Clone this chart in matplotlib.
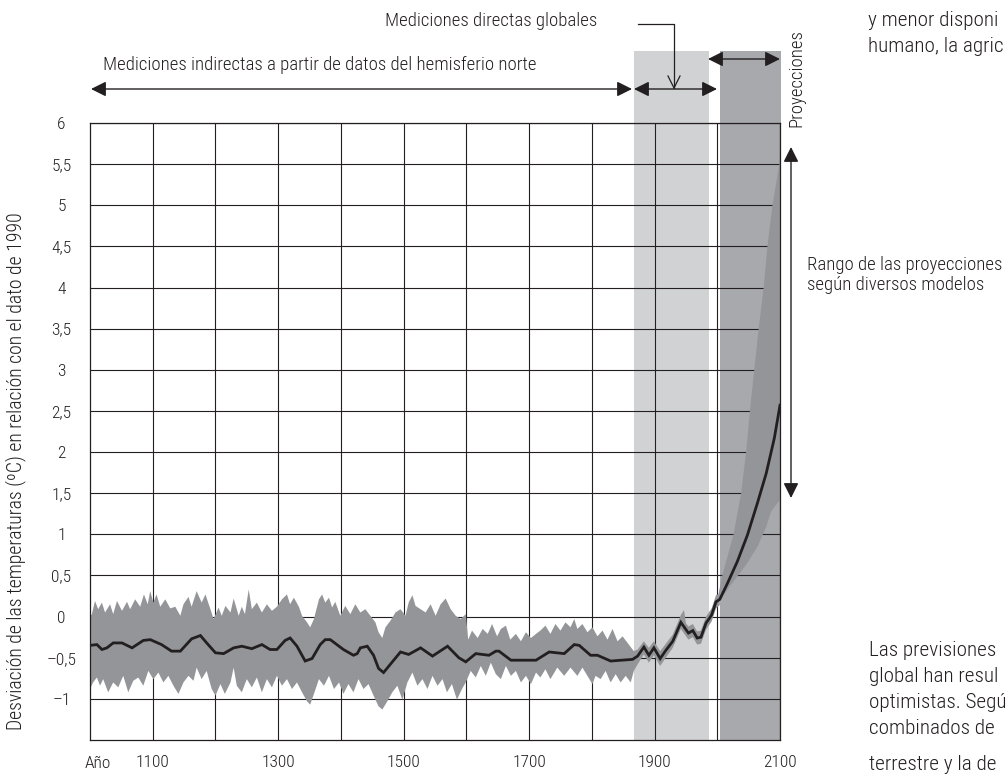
import numpy as np
import matplotlib
matplotlib.use("Agg")
import matplotlib.pyplot as plt
from matplotlib import font_manager as fm
from matplotlib.patches import Rectangle
from matplotlib.lines import Line2D

# ---------------- data ----------------
# reconstructed mean temperature deviation (black line)
mean_years = [1000, 1011, 1019, 1027, 1037, 1051, 1067, 1085, 1096, 1114, 1130, 1144, 1162, 1176,
              1186, 1200, 1213, 1229, 1242, 1258, 1274, 1287, 1298, 1311, 1319, 1330, 1343, 1354,
              1367, 1375, 1383, 1404, 1420, 1426, 1431, 1442, 1452, 1460, 1468, 1482, 1495, 1508,
              1527, 1546, 1570, 1588, 1599, 1615, 1636, 1647, 1652, 1671, 1711, 1732, 1756, 1772,
              1780, 1798, 1809, 1830, 1865, 1873, 1883, 1891, 1899, 1909, 1918, 1929, 1942, 1954,
              1961, 1968, 1974, 1982, 1991, 1998, 2004, 2016, 2032, 2048, 2064, 2078, 2091, 2100]
mean_vals = [-0.35, -0.34, -0.40, -0.38, -0.32, -0.32, -0.38, -0.29, -0.28, -0.34, -0.42, -0.42, -0.27, -0.23,
             -0.32, -0.44, -0.45, -0.38, -0.36, -0.39, -0.34, -0.40, -0.40, -0.29, -0.26, -0.36, -0.54, -0.51,
             -0.34, -0.28, -0.28, -0.40, -0.47, -0.45, -0.38, -0.36, -0.47, -0.63, -0.68, -0.55, -0.43, -0.46,
             -0.38, -0.48, -0.36, -0.50, -0.55, -0.45, -0.47, -0.42, -0.42, -0.53, -0.53, -0.43, -0.45, -0.34,
             -0.35, -0.47, -0.47, -0.54, -0.52, -0.48, -0.37, -0.47, -0.38, -0.51, -0.41, -0.30, -0.07, -0.20,
             -0.17, -0.26, -0.25, -0.08, 0.02, 0.18, 0.21, 0.40, 0.67, 0.99, 1.38, 1.74, 2.17, 2.57]

# uncertainty band, upper edge
band_up_years = [1000, 1003, 1008, 1013, 1019, 1024, 1032, 1037, 1043, 1051, 1059, 1064, 1072, 1080, 1086,
                 1092, 1096, 1101, 1106, 1112, 1120, 1128, 1136, 1144, 1149, 1157, 1162, 1170, 1178, 1184,
                 1192, 1197, 1205, 1210, 1216, 1224, 1229, 1237, 1242, 1247, 1253, 1258, 1266, 1274, 1282,
                 1290, 1298, 1306, 1314, 1319, 1325, 1333, 1338, 1346, 1351, 1357, 1365, 1370, 1375, 1381,
                 1386, 1391, 1399, 1407, 1415, 1423, 1431, 1439, 1447, 1455, 1460, 1466, 1471, 1479, 1487,
                 1495, 1503, 1508, 1514, 1519, 1527, 1535, 1543, 1551, 1559, 1567, 1575, 1583, 1591, 1599,
                 1603, 1609, 1618, 1626, 1634, 1641, 1649, 1655, 1663, 1670, 1679, 1687, 1695, 1703, 1711,
                 1718, 1726, 1734, 1742, 1750, 1758, 1766, 1772, 1777, 1785, 1793, 1801, 1809, 1817, 1825,
                 1833, 1841, 1849, 1857, 1867, 1873, 1883, 1891, 1899, 1909, 1918, 1929, 1942, 1947, 1950,
                 1954, 1961, 1968, 1974, 1982, 1991, 1998, 2004]
band_up_vals = [0.00, 0.03, 0.19, 0.09, 0.17, 0.05, 0.15, 0.03, 0.19, 0.07, 0.18, 0.09, 0.21, 0.12, 0.27,
                0.15, 0.31, 0.17, 0.27, 0.12, 0.21, 0.10, 0.12, 0.01, 0.15, 0.24, 0.12, 0.31, 0.17, 0.27,
                0.09, -0.03, 0.11, 0.01, 0.13, 0.05, 0.22, 0.01, 0.12, 0.03, 0.33, 0.09, 0.17, 0.05, 0.15,
                0.07, 0.12, 0.21, 0.27, 0.15, 0.23, 0.12, 0.01, -0.07, -0.13, -0.03, 0.21, 0.27, 0.17, 0.23,
                0.11, 0.18, 0.01, 0.13, 0.03, 0.15, 0.05, 0.09, 0.01, -0.07, -0.19, -0.26, -0.13, -0.05, 0.05,
                0.09, 0.01, 0.17, 0.26, 0.13, 0.09, 0.05, 0.15, 0.01, 0.15, 0.22, 0.09, 0.01, -0.03, 0.03,
                -0.28, -0.17, -0.26, -0.15, -0.21, -0.09, -0.24, -0.15, -0.11, -0.28, -0.21, -0.30, -0.19, -0.26, -0.21,
                -0.17, -0.11, -0.21, -0.09, -0.17, -0.07, -0.13, -0.03, -0.15, -0.09, -0.19, -0.13, -0.24, -0.17, -0.28,
                -0.15, -0.30, -0.24, -0.32, -0.42, -0.40, -0.30, -0.38, -0.30, -0.42, -0.33, -0.22, 0.02, 0.08, -0.08,
                -0.12, -0.09, -0.18, -0.17, 0.00, 0.10, 0.26, 0.28]

# uncertainty band, lower edge
band_low_years = [1000, 1005, 1011, 1016, 1021, 1029, 1037, 1045, 1053, 1061, 1069, 1077, 1085, 1093, 1101,
                  1109, 1117, 1125, 1133, 1141, 1149, 1157, 1165, 1170, 1178, 1186, 1194, 1200, 1208, 1215,
                  1224, 1229, 1234, 1242, 1250, 1258, 1266, 1274, 1282, 1290, 1298, 1306, 1314, 1322, 1330,
                  1338, 1346, 1351, 1357, 1365, 1373, 1381, 1389, 1397, 1404, 1412, 1420, 1428, 1436, 1444,
                  1452, 1460, 1466, 1474, 1482, 1490, 1498, 1506, 1514, 1522, 1530, 1538, 1546, 1554, 1562,
                  1569, 1577, 1585, 1593, 1599, 1607, 1615, 1623, 1631, 1639, 1647, 1655, 1663, 1671, 1679,
                  1687, 1695, 1703, 1711, 1718, 1726, 1734, 1745, 1756, 1766, 1777, 1785, 1793, 1801, 1806,
                  1814, 1822, 1830, 1838, 1846, 1854, 1862, 1867, 1873, 1883, 1891, 1899, 1909, 1918, 1929,
                  1942, 1954, 1961, 1968, 1974, 1982, 1991, 1998, 2004]
band_low_vals = [-0.88, -0.80, -0.74, -0.84, -0.76, -0.92, -0.80, -0.86, -0.72, -0.92, -0.78, -0.74, -0.84, -0.66, -0.76,
                 -0.68, -0.80, -0.72, -0.84, -0.94, -0.80, -0.72, -0.78, -0.62, -0.76, -0.66, -0.88, -0.96, -0.82, -0.94,
                 -0.80, -0.62, -0.84, -0.92, -0.76, -0.86, -0.74, -0.92, -0.76, -0.86, -0.72, -0.84, -0.76, -0.88, -0.80,
                 -0.92, -1.03, -1.07, -0.94, -0.76, -0.84, -0.72, -0.88, -0.80, -0.94, -0.82, -0.92, -0.76, -0.88, -0.82,
                 -0.96, -1.09, -1.13, -1.03, -0.92, -0.84, -1.01, -0.80, -0.68, -0.84, -0.76, -0.88, -0.72, -0.84, -0.76,
                 -0.92, -0.82, -1.01, -0.88, -0.80, -0.66, -0.74, -0.60, -0.72, -0.56, -0.70, -0.76, -0.60, -0.72, -0.66,
                 -0.80, -0.72, -0.82, -0.68, -0.74, -0.64, -0.76, -0.62, -0.72, -0.62, -0.72, -0.62, -0.72, -0.82, -0.72,
                 -0.76, -0.66, -0.80, -0.70, -0.80, -0.72, -0.80, -0.66, -0.58, -0.46, -0.56, -0.47, -0.60, -0.50, -0.38,
                 -0.15, -0.28, -0.25, -0.34, -0.33, -0.16, -0.06, 0.10, 0.14]

# range of model projections
proj_up_years = [2000, 2008, 2026, 2038, 2046, 2052, 2059, 2066, 2074, 2080, 2088, 2099, 2100]
proj_up_vals = [0.20, 0.50, 1.00, 1.50, 2.00, 2.50, 3.00, 3.50, 4.00, 4.50, 5.00, 5.50, 5.72]
proj_low_years = [2000, 2006, 2027, 2046, 2064, 2078, 2086, 2100]
proj_low_vals = [0.15, 0.22, 0.44, 0.63, 0.85, 1.09, 1.28, 1.42]

# periods
indirect_period = (1000, 1867)
direct_period = (1867, 1987)
projection_period = (2005, 2100)

y_ticks = [-1, -0.5, 0, 0.5, 1, 1.5, 2, 2.5, 3, 3.5, 4, 4.5, 5, 5.5, 6]
y_tick_labels = ["–1", "–0,5", "0", "0,5", "1", "1,5", "2", "2,5", "3", "3,5", "4", "4,5", "5", "5,5", "6"]
x_grid = [1100, 1200, 1300, 1400, 1500, 1600, 1700, 1800, 1900, 2000, 2100]
x_tick_labels = ["1100", "", "1300", "", "1500", "", "1700", "", "1900", "", "2100"]

# ---------------- style ----------------
names = {f.name for f in fm.fontManager.ttflist}
FONT = "Roboto"
for cand in ["Roboto Condensed", "Liberation Sans Narrow"]:
    if cand in names:
        FONT = cand
        break
plt.rcParams["font.family"] = [FONT, "DejaVu Sans"]
plt.rcParams["font.weight"] = "light"

INK = "#231f20"
LIGHT = "#d1d2d4"
DARK = "#a7a9ac"
BAND = "#939598"
RANGE = "#939598"

W, H = 1006, 776
fig = plt.figure(figsize=(W / 100, H / 100), dpi=100)
ax = fig.add_axes([90 / W, 1 - 740 / H, 690 / W, 617 / H])
ax.set_xlim(1000, 2100)
ax.set_ylim(-1.5, 6)

def P(x, y):
    return (x / W, 1 - y / H)

TOP = 6.875
ax.add_patch(Rectangle((direct_period[0], -1.5), direct_period[1] - direct_period[0], TOP + 1.5,
                       facecolor=LIGHT, lw=0, zorder=0.5, clip_on=False))
ax.add_patch(Rectangle((projection_period[0], -1.5), projection_period[1] + 2 - projection_period[0], TOP + 1.5,
                       facecolor=DARK, lw=0, zorder=0.5, clip_on=False))

ax.set_xticks(x_grid)
ax.set_xticklabels(x_tick_labels)
ax.set_yticks(y_ticks)
ax.set_yticklabels(y_tick_labels, ha="center")
ax.tick_params(axis="both", length=0, labelsize=12.5, colors=INK)
ax.tick_params(axis="y", pad=20.5)
ax.tick_params(axis="x", pad=11)
ax.grid(True, color=INK, lw=0.8)
for s in ax.spines.values():
    s.set_color(INK)
    s.set_linewidth(0.9)

# uncertainty band
bx = np.concatenate([band_up_years, band_low_years[::-1]])
by = np.concatenate([band_up_vals, band_low_vals[::-1]])
ax.fill(bx, by, color=BAND, lw=0, zorder=2)
# projections range
px_ = np.concatenate([proj_up_years, proj_low_years[::-1]])
py_ = np.concatenate([proj_up_vals, proj_low_vals[::-1]])
ax.fill(px_, py_, color=RANGE, lw=0, zorder=2)
ax.plot(mean_years, mean_vals, color=INK, lw=2.0, zorder=3, solid_joinstyle="miter")

fig.text(*P(98, 763), "Año", ha="center", va="center", fontsize=12.5, color=INK)

# y label
fig.text(*P(16, 471), "Desviación de las temperaturas (ºC) en relación con el dato de 1990",
         rotation=90, ha="center", va="center", fontsize=14.2, color=INK)

# top annotations
fs = 13.5
fig.text(*P(597, 21), "Mediciones directas globales", ha="right", va="center", fontsize=fs, color=INK)
fig.text(*P(103, 65), "Mediciones indirectas a partir de datos del hemisferio norte",
         ha="left", va="center", fontsize=fs, color=INK)
fig.text(*P(796, 78), "Proyecciones", rotation=90, ha="center", va="center", fontsize=fs, color=INK)
fig.text(*P(807, 275), "Rango de las proyecciones\nsegún diversos modelos", ha="left", va="center",
         fontsize=fs, color=INK, linespacing=1.1)

arrow_kw = dict(arrowstyle="<|-|>,head_length=0.7,head_width=0.35", color=INK, lw=1.0,
                shrinkA=0, shrinkB=0, mutation_scale=13)
def darrow(x0, y0, x1, y1):
    ax.annotate("", xy=P(x1, y1), xytext=P(x0, y0), xycoords="figure fraction",
                textcoords="figure fraction", arrowprops=arrow_kw, annotation_clip=False)

darrow(91, 89, 632, 89)
darrow(634, 89, 717, 89)
darrow(708, 59, 780, 59)
darrow(791, 147, 791, 498)

# leader to direct measurements
for xs, ys in [([638, 674, 674], [24, 24, 88]), ([668, 674, 680], [76, 88, 76])]:
    fx = [x / W for x in xs]
    fy = [1 - y / H for y in ys]
    fig.add_artist(Line2D(fx, fy, color=INK, lw=0.9))

# body text cut off on the right
bfs = 15.2
for y, t in [(21, "y menor disponi"), (46, "humano, la agric")]:
    fig.text(*P(868, y), t, ha="left", va="center", fontsize=bfs, color=INK)
for y, t in [(651, "Las previsiones"), (677, "global han resul"), (703, "optimistas. Segú"),
             (729, "combinados de"), (764, "terrestre y la de")]:
    fig.text(*P(869, y), t, ha="left", va="center", fontsize=bfs, color=INK)

fig.savefig("out.png", dpi=100)
